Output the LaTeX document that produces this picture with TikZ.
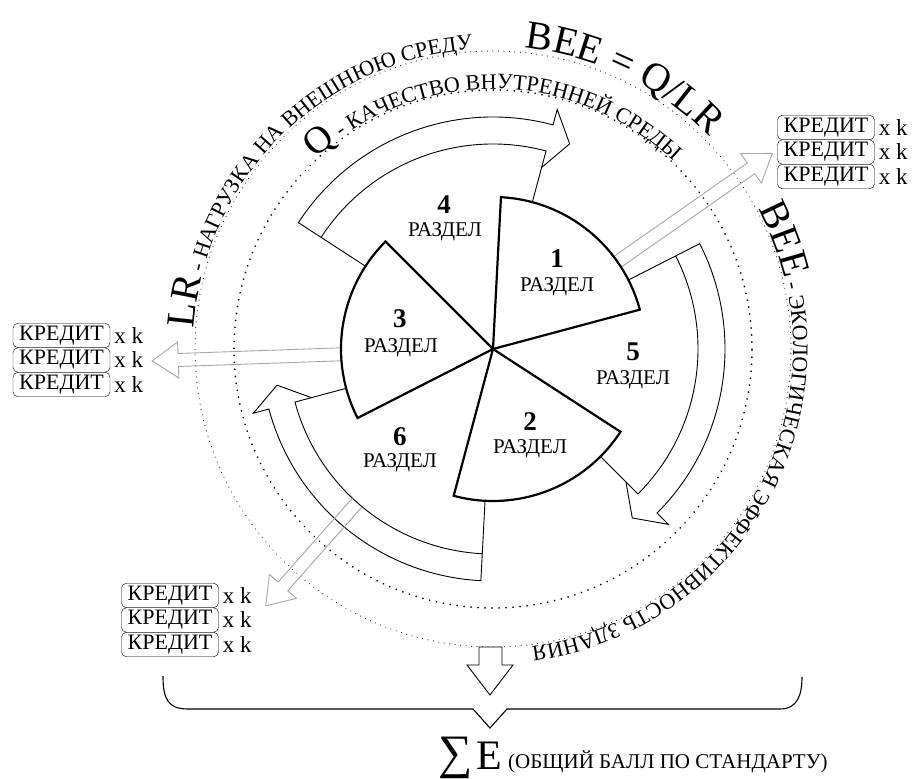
\documentclass[tikz,border=0pt]{standalone}
\usepackage{fontspec}
\setmainfont{Liberation Serif}
\usetikzlibrary{decorations.text}
\newcommand\bigtxt{\fontsize{40}{44}\selectfont}
\newcommand\qtxt{\fontsize{38}{42}\selectfont}
\newcommand\smalltxt{\fontsize{22}{24}\selectfont}
% curved block arrow: wedge from the centre, band between r=205 and r=232
\newcommand\bandarrow[2]{%
  \draw[band] (0,0) -- (#1:232) arc[start angle=#1, end angle=#2, radius=232pt]
    -- (#2:248) -- ({#2-5.5}:219) -- (#2:188) -- cycle;
  \draw[band, fill=none] (#1:205) arc[start angle=#1, end angle=#2, radius=205pt] -- (#2:188);}
% light outlined radial arrow: angle, start radius, tip radius
\newcommand\ghostarrow[3]{%
  \begin{scope}[rotate=#1]
    \draw[ghost] (#2,6.5) -- ({#3-26},6.5) -- ({#3-26},18) -- (#3,0)
      -- ({#3-26},-18) -- ({#3-26},-6.5) -- (#2,-6.5);
  \end{scope}}
\begin{document}
\begin{tikzpicture}[x=1pt,y=1pt,
  sector/.style={draw, line width=2.2pt, fill=white, line join=miter},
  band/.style={draw, line width=0.9pt, fill=white, line join=miter},
  ghost/.style={draw=black!35, line width=0.9pt, line join=miter},
  outerdots/.style={line width=1.1pt, dash pattern=on 0.01pt off 5.5pt, line cap=round},
  innerdots/.style={line width=1.9pt, dash pattern=on 0.01pt off 7pt, line cap=round},
  credit/.style={draw, rounded corners=5pt, minimum width=97pt, minimum height=24.5pt,
    inner sep=0pt, font=\fontsize{22}{22}\selectfont},
  factor/.style={anchor=west, inner sep=0pt, font=\fontsize{23}{23}\selectfont},
  num/.style={inner sep=0pt, font=\fontsize{27}{27}\selectfont\bfseries},
  word/.style={inner sep=0pt, font=\fontsize{21}{21}\selectfont},
  plain/.style={inner sep=0pt, anchor=base west},
]
\useasboundingbox (-493,-429) rectangle (424,349);

% dotted reference circles
\draw[outerdots] (0,0) circle[radius=298pt];
\draw[innerdots] (0,0) circle[radius=259pt];

% curved arrows around sections 4, 5 and 6
\bandarrow{147}{75}
\bandarrow{27}{-45}
\bandarrow{-93}{-165}

% radial arrows towards the credit lists
\ghostarrow{35}{148}{341}
\ghostarrow{182}{148}{341}
\ghostarrow{228.5}{205}{343}

% sections 1, 2, 3
\draw[sector] (0,0) -- (15:152) arc[start angle=15, end angle=87, radius=152pt] -- cycle;
\draw[sector] (0,0) -- (-105:152) arc[start angle=-105, end angle=-33, radius=152pt] -- cycle;
\draw[sector] (0,0) -- (135:152) arc[start angle=135, end angle=207, radius=152pt] -- cycle;

% section labels
\node[num]  (n1) at (64,90) {1};    \node[word] (w1) at (64,62) {РАЗДЕЛ};
\node[num]  (n2) at (37,-73) {2};   \node[word] (w2) at (37,-100) {РАЗДЕЛ};
\node[num]  (n3) at (-93,30) {3};   \node[word] (w3) at (-92,1) {РАЗДЕЛ};
\node[num]  (n4) at (-49,144) {4};  \node[word] (w4) at (-48,117) {РАЗДЕЛ};
\node[num]  (n5) at (140,-3) {5};   \node[word] (w5) at (140,-31) {РАЗДЕЛ};
\node[num]  (n6) at (-93,-88) {6};  \node[word] (w6) at (-93,-114) {РАЗДЕЛ};

% texts along the circles
\path[decorate, decoration={text along path,
  text={|\bigtxt|LR|\smalltxt| - НАГРУЗКА НА ВНЕШНЮЮ СРЕДУ}}]
  (176:300) arc[start angle=176, end angle=60, radius=300pt];
\path[decorate, decoration={text along path, text={|\bigtxt|BEE = Q/LR}}]
  (84:303) arc[start angle=84, end angle=10, radius=303pt];
\path[decorate, decoration={text along path,
  text={|\bigtxt|BEE|\smalltxt| - ЭКОЛОГИЧЕСКАЯ ЭФФЕКТИВНОСТЬ ЗДАНИЯ}}]
  (28:300) arc[start angle=28, end angle=-130, radius=300pt];
\path[decorate, decoration={text along path,
  text={|\qtxt|Q|\smalltxt| - КАЧЕСТВО ВНУТРЕННЕЙ СРЕДЫ}}]
  (133:260) arc[start angle=133, end angle=20, radius=260pt];

% credit lists
\foreach \i/\y in {1/221.5, 2/197, 3/172.5}{
  \node[credit] (rc\i) at (333,\y) {КРЕДИТ};
  \node[factor] (rk\i) at ([xshift=4pt]rc\i.east) {x k};
}
\foreach \i/\y in {1/13.5, 2/-11, 3/-35.5}{
  \node[credit] (lc\i) at (-431.5,\y) {КРЕДИТ};
  \node[factor] (lk\i) at ([xshift=4pt]lc\i.east) {x k};
}
\foreach \i/\y in {1/-246.5, 2/-271, 3/-295.5}{
  \node[credit] (bc\i) at (-323,\y) {КРЕДИТ};
  \node[factor] (bk\i) at ([xshift=4pt]bc\i.east) {x k};
}

% total: block arrow and brace
\draw[band] (-14,-298) -- (9,-298) -- (9,-316) -- (20,-316) -- (-3,-346)
  -- (-26,-316) -- (-14,-316) -- cycle;
\draw[line width=1.1pt, line join=miter] (-330,-327) .. controls (-330,-350) and (-325,-360) .. (-305,-360)
  -- (-20,-360) -- (-3,-379) -- (14,-360) -- (287,-360)
  .. controls (305,-360) and (309,-345) .. (309,-328);

\node[inner sep=0pt, anchor=base west, font=\fontsize{48}{48}\selectfont] (sig) at (-55,-419) {∑};
\node[plain, font=\fontsize{42}{42}\selectfont] (ee) at (-17,-420) {E};
\node[plain, font=\fontsize{21}{21}\selectfont] (score) at (15,-419) {(ОБЩИЙ БАЛЛ ПО СТАНДАРТУ)};
\end{tikzpicture}
\end{document}
